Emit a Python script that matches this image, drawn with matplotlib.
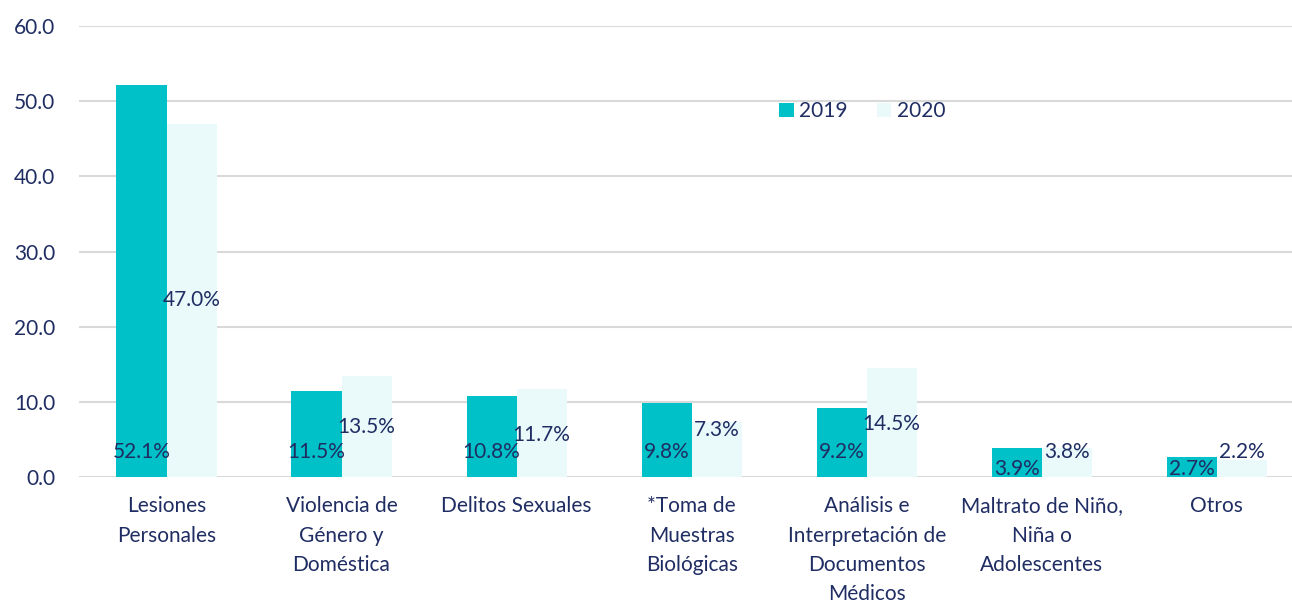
import numpy as np
import matplotlib
matplotlib.use("Agg")
import matplotlib.pyplot as plt

plt.rcParams['font.family'] = ['Lato', 'DejaVu Sans']

# data
categories = ["Lesiones\nPersonales", "Violencia de\nGénero y\nDoméstica",
              "Delitos Sexuales", "*Toma de\nMuestras\nBiológicas",
              "Análisis e\nInterpretación de\nDocumentos\nMédicos",
              "Maltrato de Niño,\nNiña o\nAdolescentes", "Otros"]
vals_2019 = [52.1, 11.5, 10.8, 9.8, 9.2, 3.9, 2.7]
vals_2020 = [47.0, 13.5, 11.7, 7.3, 14.5, 3.8, 2.2]

# where the data labels sit (layout, like excel put them)
lab_y19 = [3.3, 3.3, 3.3, 3.3, 3.3, 1.0, 1.0]
lab_y20 = [23.5, 6.6, 5.6, 6.2, 7.0, 3.3, 3.3]

c19 = "#00C0C8"
c20 = "#EAFAFB"
txt = "#1F2D63"
fs = 15

fig = plt.figure(figsize=(12.92, 6.03), dpi=100)
ax = fig.add_axes([79/1292, 1 - 477/603, 1213/1292, 451/603])

x = np.arange(len(categories))
w = 0.286
b1 = ax.bar(x - w/2, vals_2019, w, color=c19, label="2019", zorder=2)
b2 = ax.bar(x + w/2, vals_2020, w, color=c20, label="2020", zorder=2)

for i in range(len(x)):
    ax.text(x[i] - w/2, lab_y19[i], "%.1f%%" % vals_2019[i], ha="center",
            va="center", fontsize=fs, color=txt, zorder=3)
    ax.text(x[i] + w/2, lab_y20[i], "%.1f%%" % vals_2020[i], ha="center",
            va="center", fontsize=fs, color=txt, zorder=3)

ax.set_ylim(0, 60)
ax.set_xlim(-0.5, 6.43)
ax.set_yticks(np.arange(0, 61, 10))
ax.set_yticklabels(["%.1f" % v for v in np.arange(0, 61, 10)])
ax.set_xticks(x)
ax.set_xticklabels(categories, linespacing=1.58)
ax.tick_params(axis="both", length=0, labelsize=fs, labelcolor=txt)
ax.tick_params(axis="x", pad=14)
ax.tick_params(axis="y", pad=17)
ax.grid(axis="y", color="#D9D9D9", linewidth=1.5, zorder=0)
for s in ax.spines.values():
    s.set_visible(False)

ax.legend(loc="upper left", bbox_to_anchor=(0.562, 0.875), ncol=2, frameon=False,
          fontsize=fs, labelcolor=txt, handlelength=0.7, handleheight=0.7,
          handletextpad=0.25, columnspacing=1.4)

fig.savefig("out.png", dpi=100)
